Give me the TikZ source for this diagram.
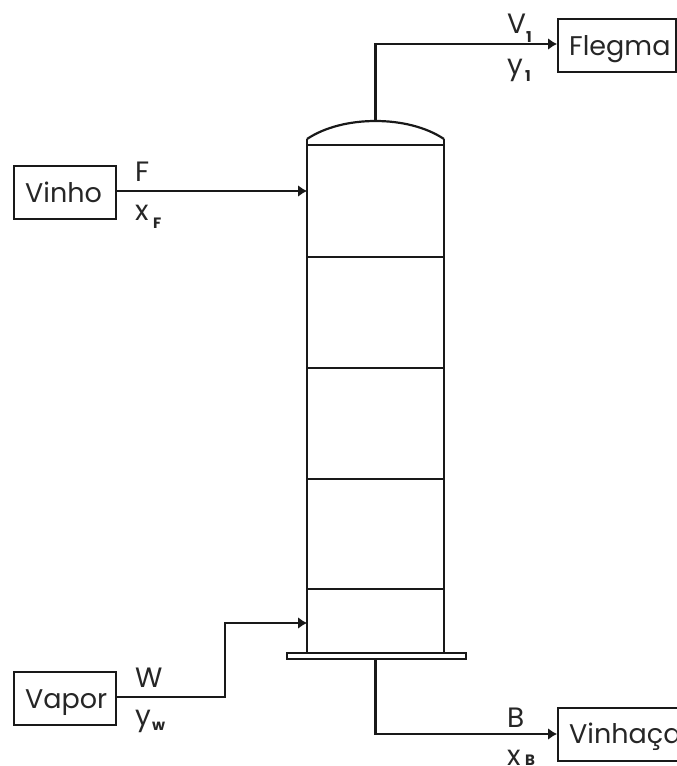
\documentclass[tikz,border=0pt]{standalone}
\usepackage{fontspec}
\setmainfont{Poppins}
\usetikzlibrary{arrows.meta}
\tikzset{
  ln/.style={line width=2.2pt,black!90},
  flow/.style={ln,-{Latex[length=9pt,width=12pt]}},
  unit/.style={draw,line width=2.2pt,black!90,minimum height=53pt,inner sep=0pt,anchor=north west},
  word/.style={inner sep=0pt,anchor=base west,font=\fontsize{27}{27}\selectfont,text=black!85},
  lab/.style={inner sep=0pt,anchor=base west,font=\fontsize{28}{28}\selectfont,text=black!85},
  sublab/.style={inner sep=0pt,anchor=base west,font=\fontsize{15}{15}\selectfont\bfseries,text=black!85}
}
\begin{document}
\begin{tikzpicture}[x=1pt,y=-1pt]
\useasboundingbox (0,0) rectangle (677,766);
% boxes
\node[unit,minimum width=102pt] (vinho) at (13,165) {};
\node[unit,minimum width=102pt] (vapor) at (13,671) {};
\node[unit,minimum width=118pt] (flegma) at (557,18) {};
\node[unit,minimum width=140pt] (vinhaca) at (557,707) {};
\node[word] (tvinho) at (25,202) {Vinho};
\node[word] (tvapor) at (25,708) {Vapor};
\node[word] (tflegma) at (569,55) {Flegma};
\node[word] (tvinhaca) at (569,743) {Vinhaça};
% column
\coordinate (domeL) at (307,139);
\coordinate (domeR) at (444,139);
\coordinate (domeT) at (375.5,121);
\coordinate (baseL) at (307,652);
\coordinate (baseR) at (444,652);
\draw[ln] (domeL) .. controls (325,127) and (350,121) .. (domeT) .. controls (401,121) and (426,127) .. (domeR);
\draw[ln] (domeL) -- (baseL);
\draw[ln] (domeR) -- (baseR);
\foreach \yy in {145,257,368,479,589}
  \draw[ln] (307,\yy) -- (444,\yy);
\node[draw,line width=2.2pt,black!90,minimum width=179pt,minimum height=6pt,inner sep=0pt,anchor=north west] (plate) at (286,652) {};
% feeds
\coordinate (feedF) at (307,191);
\coordinate (feedW) at (307,623);
\coordinate (wA) at (225,697);
\coordinate (wB) at (225,623);
\coordinate (topA) at (375.5,44);
\coordinate (botA) at (375.5,734);
\draw[flow] (vinho.east |- feedF) -- (feedF);
\draw[flow] (vapor.east |- wA) -- (wA) -- (wB) -- (feedW);
\draw[flow] (domeT) -- (topA) -- (flegma.west |- topA);
\draw[flow] (plate.south -| botA) -- (botA) -- (vinhaca.west |- botA);
% labels
\node[lab] (lF) at (135,181) {F};
\node[lab] (lx) at (135,220) {x};
\node[sublab] (lxs) at (153,228) {F};
\node[lab] (lW) at (135,687) {W};
\node[lab] (ly) at (135,725) {y};
\node[sublab] (lys) at (152,730) {w};
\node[lab] (lV) at (507,33) {V};
\node[sublab] (lVs) at (526,42) {1};
\node[lab] (ly1) at (507,74) {y};
\node[sublab] (ly1s) at (525,81) {1};
\node[lab] (lB) at (507,727) {B};
\node[lab] (lxb) at (507,765) {x};
\node[sublab] (lxbs) at (525,765) {B};
\end{tikzpicture}
\end{document}
